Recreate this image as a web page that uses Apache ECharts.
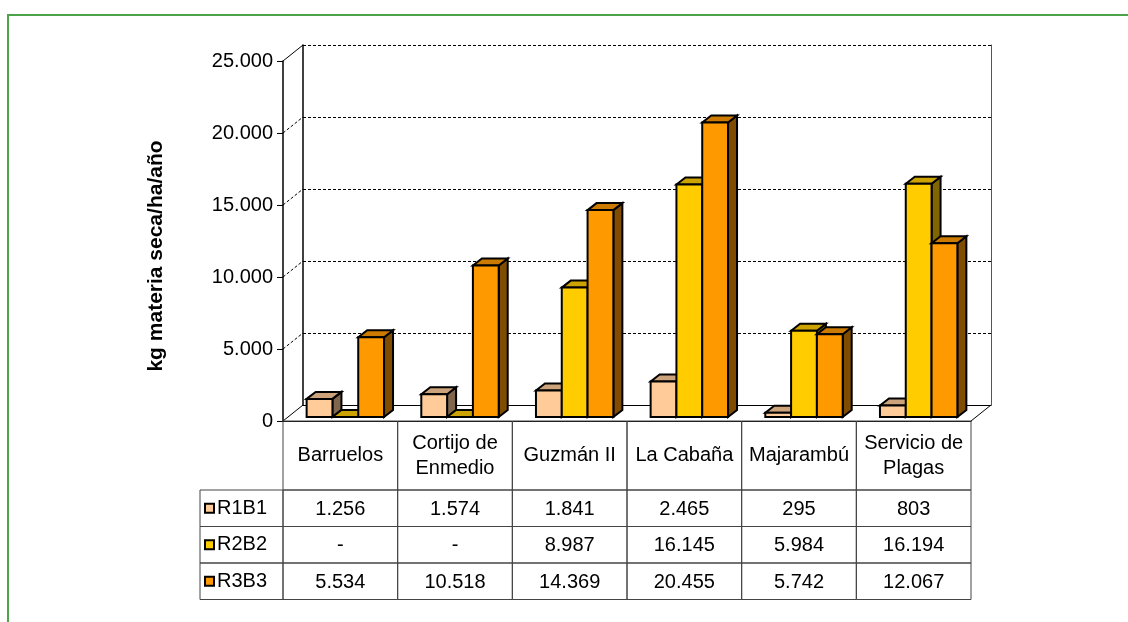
<!DOCTYPE html>
<html>
<head>
<meta charset="utf-8">
<title>kg materia seca/ha/año</title>
<script src="https://cdn.jsdelivr.net/npm/echarts@6/dist/echarts.min.js"></script>
<style>
  html, body { margin: 0; padding: 0; background: #fff; }
  #chart { width: 1128px; height: 622px; }
</style>
</head>
<body>
<div id="chart"></div>
<script>
var categories = ['Barruelos', 'Cortijo de\nEnmedio', 'Guzmán II', 'La Cabaña', 'Majarambú', 'Servicio de\nPlagas'];
var seriesNames = ['R1B1', 'R2B2', 'R3B3'];
var r1b1 = [1256, 1574, 1841, 2465, 295, 803];
var r2b2 = [0, 0, 8987, 16145, 5984, 16194];
var r3b3 = [5534, 10518, 14369, 20455, 5742, 12067];
var yTicks = [0, 5000, 10000, 15000, 20000, 25000];

var FONT = '"Liberation Sans", Arial, sans-serif';
var colors = ['#FFCC99', '#FFCC00', '#FF9900'];
var topColors = ['#CCA37A', '#CCA300', '#CC7A00'];
var sideColors = ['#80664D', '#806600', '#804D00'];
var seriesValues = [r1b1, r2b2, r3b3];
var yMax = yTicks[yTicks.length - 1];

// thousands with a dot, as in the original sheet
function group(v) {
  return String(v).replace(/\B(?=(\d{3})+(?!\d))/g, '.');
}
function cell(v) {
  return v === 0 ? '-' : group(v);
}

// wall depth and bar depth, in pixels
var WALL_DX = 20, WALL_DY = 16;
var BAR_DX = 9, BAR_DY = 7;

function barRenderer(k) {
  return function (params, api) {
    var idx = api.value(0);
    var base = api.coord([idx, 0]);
    var top = api.coord([idx, api.value(1)]);
    var band = api.size([1, 0])[0];
    var w = band * 0.225;
    var x0 = base[0] - 1.5 * w + k * w;
    var x1 = x0 + w;
    var y0 = base[1];
    var y1 = top[1];
    var stroke = { stroke: '#000', lineWidth: 2, lineJoin: 'miter' };
    return {
      type: 'group',
      children: [
        {
          type: 'polygon',
          shape: { points: [[x1, y1], [x1 + BAR_DX, y1 - BAR_DY], [x1 + BAR_DX, y0 - BAR_DY], [x1, y0]] },
          style: Object.assign({ fill: sideColors[k] }, stroke)
        },
        {
          type: 'polygon',
          shape: { points: [[x0, y1], [x0 + BAR_DX, y1 - BAR_DY], [x1 + BAR_DX, y1 - BAR_DY], [x1, y1]] },
          style: Object.assign({ fill: topColors[k] }, stroke)
        },
        {
          type: 'rect',
          shape: { x: x0, y: y1, width: w, height: y0 - y1 },
          style: Object.assign({ fill: colors[k] }, stroke)
        }
      ]
    };
  };
}

function renderWallEdges(params, api) {
  var v = api.value(1);
  var p = api.coord([0, v]);
  var cs = params.coordSys;
  var solid = v === 0 || v === yMax;
  var style = { stroke: '#000', lineWidth: 1, lineDash: solid ? null : [3, 2] };
  var children = [{
    type: 'line',
    shape: { x1: cs.x, y1: p[1], x2: cs.x + WALL_DX, y2: p[1] - WALL_DY },
    style: style
  }];
  if (v === 0) {
    children.push({
      type: 'line',
      shape: { x1: cs.x + cs.width, y1: p[1], x2: cs.x + cs.width + WALL_DX, y2: p[1] - WALL_DY },
      style: style
    });
  }
  return { type: 'group', children: children };
}

var HEAD_H = 69, ROW_H = 36.5, LEGEND_W = 83;

function renderTable(params, api) {
  var i = api.value(0);
  var c = api.coord([i, 0]);
  var band = api.size([1, 0])[0];
  var left = c[0] - band / 2;
  var top = c[1];
  var line = { fill: null, stroke: '#444', lineWidth: 1 };
  var txt = { fill: '#000', fontSize: 20, fontFamily: FONT, align: 'center', verticalAlign: 'middle', lineHeight: 25 };
  var children = [
    { type: 'rect', shape: { x: left, y: top, width: band, height: HEAD_H }, style: line },
    { type: 'text', style: Object.assign({ text: categories[i], x: c[0], y: top + HEAD_H / 2 }, txt) }
  ];
  for (var k = 0; k < seriesValues.length; k++) {
    var y = top + HEAD_H + k * ROW_H;
    children.push({ type: 'rect', shape: { x: left, y: y, width: band, height: ROW_H }, style: line });
    children.push({ type: 'text', style: Object.assign({ text: cell(seriesValues[k][i]), x: c[0], y: y + ROW_H / 2 + 1 }, txt) });
    if (i === 0) {
      children.push({ type: 'rect', shape: { x: left - LEGEND_W, y: y, width: LEGEND_W, height: ROW_H }, style: line });
    }
  }
  return { type: 'group', children: children };
}

var chart = echarts.init(document.getElementById('chart'));

var legends = seriesNames.map(function (name, k) {
  return {
    data: [{ name: name, icon: 'rect' }],
    left: 204,
    top: 490 + k * ROW_H + ROW_H / 2 - 11,
    padding: 0,
    itemWidth: 9,
    itemHeight: 9,
    itemGap: 0,
    selectedMode: false,
    itemStyle: { borderColor: '#000', borderWidth: 2 },
    textStyle: { fontSize: 20, fontFamily: FONT, color: '#000', lineHeight: 22, padding: [0, 0, 0, -2] }
  };
});

var barSeries = seriesNames.map(function (name, k) {
  return {
    name: name,
    type: 'custom',
    xAxisIndex: 0,
    yAxisIndex: 0,
    itemStyle: { color: colors[k] },
    renderItem: barRenderer(k),
    data: seriesValues[k].map(function (v, i) { return [i, v]; }),
    z: 5
  };
});

chart.setOption({
  animation: false,
  textStyle: { fontFamily: FONT },
  legend: legends,
  graphic: [{
    type: 'polyline',
    shape: { points: [[8, 622], [8, 15], [1128, 15]] },
    style: { fill: null, stroke: '#4CA34A', lineWidth: 2 }
  }],
  grid: [
    // front plane of the bars
    { left: 288, top: 57, width: 688, height: 360 },
    // front of the box: value axis and data table
    { left: 283, top: 61, width: 688, height: 360 },
    // back wall
    { left: 303, top: 45, width: 688, height: 360 }
  ],
  xAxis: [
    { gridIndex: 0, type: 'category', data: categories, show: false },
    {
      gridIndex: 1, type: 'category', data: categories,
      axisLine: { show: true, lineStyle: { color: '#000', width: 1 } },
      axisTick: { show: false }, axisLabel: { show: false }
    },
    {
      gridIndex: 2, type: 'category', data: categories,
      axisLine: { show: true, lineStyle: { color: '#000', width: 1 } },
      axisTick: { show: false }, axisLabel: { show: false }
    }
  ],
  yAxis: [
    { gridIndex: 0, type: 'value', min: 0, max: yMax, show: false },
    {
      gridIndex: 1, type: 'value', min: 0, max: yMax, interval: 5000,
      name: 'kg materia seca/ha/año',
      nameLocation: 'middle',
      nameGap: 116,
      nameRotate: 90,
      nameTextStyle: { fontSize: 21, fontWeight: 'bold', color: '#000', fontFamily: FONT, padding: [0, 30, 0, 0] },
      axisLine: { show: true, lineStyle: { color: '#000', width: 1.5 } },
      axisTick: { show: true, length: 6, lineStyle: { color: '#000' } },
      axisLabel: {
        fontSize: 20, color: '#000', margin: 10, fontFamily: FONT,
        formatter: function (v) { return group(v); }
      },
      splitLine: { show: false }
    },
    {
      gridIndex: 2, type: 'value', min: 0, max: yMax, interval: 5000,
      axisLine: { show: true, lineStyle: { color: '#000', width: 1.5 } },
      axisTick: { show: false }, axisLabel: { show: false },
      splitLine: { show: true, lineStyle: { color: '#000', width: 1, type: [3, 2] } }
    },
    {
      gridIndex: 2, type: 'value', min: 0, max: yMax, position: 'right',
      axisLine: { show: true, lineStyle: { color: '#555', width: 1 } },
      axisTick: { show: false }, axisLabel: { show: false }, splitLine: { show: false }
    }
  ],
  series: [
    {
      type: 'custom',
      name: 'wall',
      xAxisIndex: 1,
      yAxisIndex: 1,
      renderItem: renderWallEdges,
      data: yTicks.map(function (v) { return [0, v]; }),
      silent: true,
      z: 3
    },
    {
      type: 'custom',
      name: 'table',
      xAxisIndex: 1,
      yAxisIndex: 1,
      renderItem: renderTable,
      data: categories.map(function (c, i) { return [i, 0]; }),
      silent: true,
      z: 3
    }
  ].concat(barSeries)
});
</script>
</body>
</html>
